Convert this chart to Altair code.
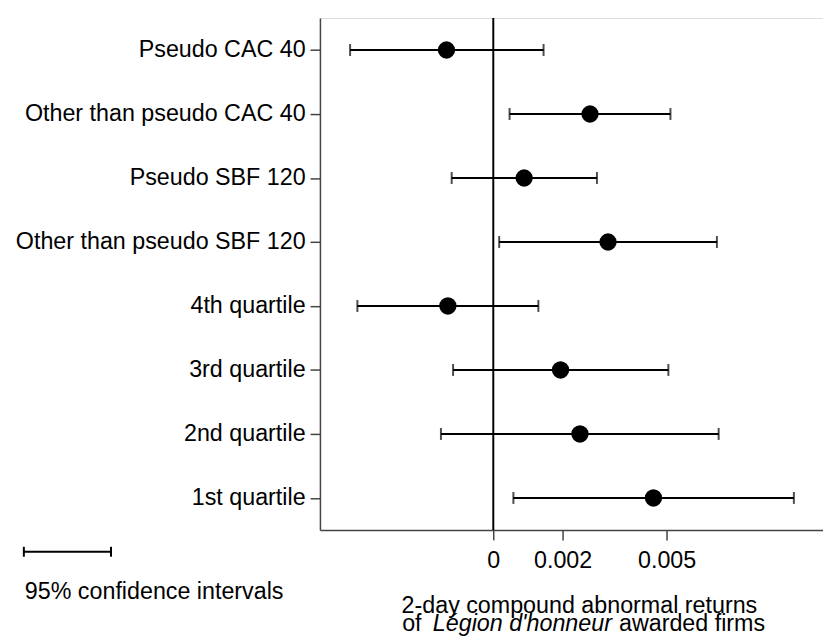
import altair as alt
import pandas as pd

categories = [
    "Pseudo CAC 40",
    "Other than pseudo CAC 40",
    "Pseudo SBF 120",
    "Other than pseudo SBF 120",
    "4th quartile",
    "3rd quartile",
    "2nd quartile",
    "1st quartile",
]
estimates = [-0.00135, 0.00279, 0.00089, 0.00331, -0.00131, 0.00194, 0.00250, 0.00462]
ci_low = [-0.00413, 0.00047, -0.00120, 0.00017, -0.00392, -0.00116, -0.00151, 0.00058]
ci_high = [0.00145, 0.00511, 0.00299, 0.00645, 0.00130, 0.00505, 0.00650, 0.00867]
x_ticks = [0, 0.002, 0.005]

df = pd.DataFrame({"cat": categories, "est": estimates, "lo": ci_low, "hi": ci_high})

FONT = "Liberation Sans"
FS = 23.5

xscale = alt.Scale(domain=[-0.005, 0.00951], nice=False, zero=False)
yscale = alt.Scale(type="point", padding=0.5)

xax = alt.Axis(values=x_ticks, format="~g", title=None, grid=False, tickSize=10,
               labelPadding=9, labelFontSize=FS, labelFont=FONT, labelColor="black",
               domainColor="#444444", tickColor="#444444", domainWidth=1.5, tickWidth=1.5,
               labelFlush=False)
yax = alt.Axis(title=None, grid=False, tickSize=10, labelPadding=5, labelFontSize=FS,
               labelFont=FONT, labelColor="black", domainColor="#444444",
               tickColor="#444444", domainWidth=1.5, tickWidth=1.5, labelLimit=400)

base = alt.Chart(df)

y_enc = alt.Y("cat:N", sort=None, scale=yscale, axis=yax)

bars = base.mark_rule(color="black", strokeWidth=2).encode(
    x=alt.X("lo:Q", scale=xscale, axis=xax), x2="hi:Q", y=y_enc)
cap_lo = base.mark_tick(color="black", thickness=2, size=12, orient="vertical").encode(
    x=alt.X("lo:Q", scale=xscale), y=alt.Y("cat:N", sort=None, scale=yscale))
cap_hi = base.mark_tick(color="black", thickness=2, size=12, orient="vertical").encode(
    x=alt.X("hi:Q", scale=xscale), y=alt.Y("cat:N", sort=None, scale=yscale))

zero = alt.Chart(alt.Data(values=[{"z": 0}])).mark_rule(color="black", strokeWidth=2).encode(
    x=alt.X("z:Q", scale=xscale))

points = base.mark_circle(color="black", opacity=1, size=305).encode(
    x=alt.X("est:Q", scale=xscale), y=alt.Y("cat:N", sort=None, scale=yscale))

one = alt.Data(values=[{"a": 1}])
leg_line = alt.Chart(one).mark_rule(color="black", strokeWidth=2).encode(
    x=alt.value(-299), x2=alt.value(-211), y=alt.value(539))
leg_cap1 = alt.Chart(one).mark_rule(color="black", strokeWidth=2).encode(
    x=alt.value(-299), y=alt.value(534), y2=alt.value(544))
leg_cap2 = alt.Chart(one).mark_rule(color="black", strokeWidth=2).encode(
    x=alt.value(-211), y=alt.value(534), y2=alt.value(544))
leg_text = alt.Chart(one).mark_text(text="95% confidence intervals", align="left",
                                    baseline="alphabetic",
                                    font=FONT, fontSize=FS, color="black").encode(
    x=alt.value(-298), y=alt.value(587))

t1 = alt.Chart(one).mark_text(text="2-day compound abnormal returns", align="center",
                              baseline="alphabetic",
                              font=FONT, fontSize=FS, color="black").encode(
    x=alt.value(262), y=alt.value(601))
t2a = alt.Chart(one).mark_text(text="of", align="left", baseline="alphabetic",
                               font=FONT, fontSize=FS,
                               color="black").encode(x=alt.value(83), y=alt.value(619))
t2b = alt.Chart(one).mark_text(text="Légion d'honneur", align="left", baseline="alphabetic",
                               font=FONT, fontSize=FS, fontStyle="italic", color="black").encode(
    x=alt.value(114), y=alt.value(619))
t2c = alt.Chart(one).mark_text(text="awarded firms", align="left", baseline="alphabetic",
                               font=FONT, fontSize=FS, color="black").encode(
    x=alt.value(302), y=alt.value(619))

chart = alt.layer(
    bars, cap_lo, cap_hi, zero, points,
    leg_line, leg_cap1, leg_cap2, leg_text, t1, t2a, t2b, t2c,
).properties(
    width=508, height=517,
    autosize=alt.AutoSizeParams(type="none"),
    padding={"left": 315, "top": 7, "right": 0, "bottom": 108},
).configure_view(stroke=None).configure(background="white")

chart.save("out.html", embed_options={"renderer": "svg", "actions": False})
